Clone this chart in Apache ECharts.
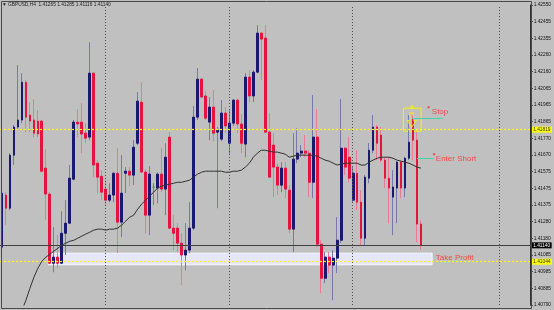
<!DOCTYPE html>
<html><head><meta charset="utf-8">
<script src="https://cdn.jsdelivr.net/npm/echarts@6/dist/echarts.min.js"></script>
<style>html,body{margin:0;padding:0;background:#c0c0c0;}#c{width:554px;height:310px;}</style>
</head><body><div id="c"></div>
<script>
// ---- data ----
const symbolName = 'GBPUSD,H4';
const lastOHLC = [1.41265, 1.41285, 1.41116, 1.41140];
const open = [1.41129,1.41435,1.41358,1.41669,1.41834,1.41875,1.42097,1.41904,1.41875,1.41869,
 1.41869,1.41593,1.41441,1.41035,1.41071,1.41035,1.41211,1.41270,1.41528,1.41863,
 1.41863,1.41798,1.41775,1.42150,1.41622,1.41545,1.41470,1.41405,1.41435,1.41563,
 1.41276,1.41563,1.41575,1.41552,1.41739,1.41980,1.41570,1.41317,1.41482,1.41476,
 1.41558,1.41470,1.41775,1.41241,1.41241,1.41153,1.41083,1.41112,1.41241,1.41892,
 1.42115,1.42016,1.41863,1.41951,1.41804,1.41763,1.41916,1.41739,1.41857,1.41992,
 1.41852,1.41734,1.42127,1.42016,1.42156,1.42385,1.42356,1.41804,1.41728,1.41599,
 1.41493,1.41593,1.41464,1.41235,1.41646,1.41681,1.41693,1.41681,1.41510,1.41775,
 1.41147,1.40947,1.41071,1.41024,1.41065,1.41170,1.41710,1.41657,1.41405,1.41563,
 1.41393,1.41182,1.41534,1.41698,1.41834,1.41787,1.41640,1.41534,1.41423,1.41476,
 1.41628,1.41476,1.41651,1.41886,1.41757,1.41265];
const close = [1.41446,1.41358,1.41669,1.41834,1.41875,1.42097,1.41892,1.41869,1.41798,1.41793,
 1.41575,1.41441,1.41035,1.41071,1.41035,1.41211,1.41270,1.41534,1.41863,1.41852,
 1.41793,1.41769,1.42150,1.41611,1.41540,1.41452,1.41405,1.41435,1.41563,1.41276,
 1.41446,1.41575,1.41552,1.41716,1.41986,1.41570,1.41317,1.41558,1.41482,1.41558,
 1.41470,1.41657,1.41241,1.41211,1.41153,1.41083,1.41112,1.41241,1.41892,1.42115,
 1.42010,1.41886,1.41951,1.41798,1.41816,1.41916,1.41840,1.41857,1.41992,1.41852,
 1.41739,1.42127,1.42016,1.42156,1.42385,1.42350,1.41804,1.41540,1.41599,1.41493,
 1.41593,1.41470,1.41235,1.41646,1.41681,1.41693,1.41681,1.41510,1.41775,1.41147,
 1.40947,1.41071,1.41024,1.41065,1.41170,1.41710,1.41599,1.41534,1.41563,1.41393,
 1.41182,1.41540,1.41698,1.41834,1.41739,1.41640,1.41534,1.41476,1.41482,1.41628,
 1.41476,1.41651,1.41745,1.41757,1.41265,1.41140];
const low = [1.41112,1.41259,1.41346,1.41611,1.41816,1.41857,1.41804,1.41804,1.41775,1.41775,
 1.41570,1.41288,1.41030,1.40982,1.41006,1.41030,1.41083,1.41265,1.41522,1.41775,
 1.41680,1.41739,1.41757,1.41540,1.41446,1.41405,1.41376,1.41393,1.41393,1.41094,
 1.41188,1.41446,1.41487,1.41493,1.41728,1.41564,1.41211,1.41200,1.41376,1.41387,
 1.41452,1.41317,1.41235,1.41112,1.41100,1.40906,1.40994,1.41094,1.41229,1.41875,
 1.42004,1.41875,1.41757,1.41751,1.41358,1.41751,1.41798,1.41669,1.41840,1.41798,
 1.41680,1.41657,1.41980,1.41980,1.42150,1.42109,1.41800,1.41535,1.41423,1.41435,
 1.41452,1.41417,1.41211,1.41100,1.41622,1.41657,1.41657,1.41423,1.41417,1.41129,
 1.40859,1.40918,1.40977,1.40818,1.40977,1.41153,1.41552,1.41510,1.41393,1.41346,
 1.41141,1.41141,1.41504,1.41680,1.41640,1.41628,1.41476,1.41270,1.41200,1.41270,
 1.41417,1.41423,1.41640,1.41640,1.41159,1.41116];
const high = [1.41464,1.41452,1.41680,1.41846,1.42198,1.42150,1.42109,1.41980,1.41998,1.41933,
 1.41875,1.41704,1.41452,1.41247,1.41200,1.41340,1.41405,1.41611,1.41875,1.41939,
 1.41974,1.41857,1.42332,1.42156,1.41640,1.41581,1.41522,1.41504,1.41569,1.41710,
 1.41669,1.41599,1.41599,1.41757,1.42039,1.42097,1.41587,1.41605,1.41504,1.41569,
 1.41710,1.41739,1.41804,1.41317,1.41270,1.41211,1.41270,1.41393,1.41957,1.42180,
 1.42121,1.42045,1.42010,1.42051,1.41834,1.41992,1.41951,1.41933,1.41998,1.41998,
 1.41910,1.42150,1.42168,1.42168,1.42432,1.42391,1.42432,1.41916,1.41798,1.41622,
 1.41628,1.41628,1.41493,1.41798,1.41828,1.41728,1.41787,1.41698,1.42022,1.41939,
 1.41170,1.41100,1.41100,1.41112,1.41305,1.41998,1.41715,1.41775,1.41599,1.41698,
 1.41464,1.41552,1.41740,1.41904,1.41846,1.41834,1.41657,1.41657,1.41581,1.41635,
 1.41635,1.41660,1.41904,1.41904,1.41804,1.41285];
const ma = [1.40466,1.40525,1.40583,1.40642,1.40701,1.40759,1.40818,1.40888,1.40953,1.41006,
 1.41047,1.41071,1.41088,1.41106,1.41123,1.41141,1.41153,1.41164,1.41170,1.41182,
 1.41194,1.41206,1.41217,1.41229,1.41235,1.41235,1.41229,1.41235,1.41235,1.41241,
 1.41259,1.41282,1.41305,1.41317,1.41352,1.41382,1.41405,1.41429,1.41452,1.41476,
 1.41487,1.41493,1.41499,1.41504,1.41510,1.41510,1.41516,1.41522,1.41540,1.41558,
 1.41569,1.41575,1.41575,1.41575,1.41575,1.41575,1.41569,1.41569,1.41575,1.41575,
 1.41581,1.41599,1.41622,1.41657,1.41681,1.41698,1.41698,1.41692,1.41687,1.41687,
 1.41681,1.41675,1.41657,1.41663,1.41669,1.41669,1.41669,1.41669,1.41669,1.41663,
 1.41651,1.41640,1.41634,1.41622,1.41611,1.41617,1.41622,1.41622,1.41622,1.41622,
 1.41611,1.41611,1.41628,1.41640,1.41651,1.41657,1.41657,1.41657,1.41651,1.41640,
 1.41634,1.41628,1.41622,1.41611,1.41599,1.41593];
const tickLabels = ['1.40790','1.40885','1.40985','1.41085','1.41180','1.41280','1.41375','1.41475','1.41575','1.41670',
 '1.41770','1.41865','1.41965','1.42065','1.42160','1.42260','1.42355','1.42455','1.42550'];
const priceMin = 1.40790, priceMax = 1.42550;
const yellowLevels = [1.41819, 1.41044];
const currentPrice = 1.41140;
const takeProfit = [1.41094, 1.41026];
const stopZone = [1.41945, 1.41810];
const stopLevel = 1.41886;
const entryLevel = 1.41652;
const noteTexts = ['Stop', 'Enter Short', 'Take Profit'];
const notePrices = [1.41921, 1.41646, 1.41065];

// ---- layout constants ----
const SLOTS = 133;
const X0 = -0.5, X1 = SLOTS - 0.5;
const bars = open.map((o, i) => [i, o, close[i], low[i], high[i]]);
const bodies = open.map((o, i) => [i, o, close[i], Math.min(o, close[i]), Math.max(o, close[i])]);
const FONT = 'Liberation Sans, Arial, sans-serif';
const BULL = '#191970', BEAR = '#e5143e';

function hLine(v, color, type, labelBg, labelFg) {
  return [
    {coord: [X0, v], lineStyle: {color: color, type: type, width: 1.2},
      label: {show: true, position: 'end', distance: 1, formatter: v.toFixed(5), fontSize: 4.8,
        fontFamily: FONT, color: labelFg, backgroundColor: labelBg, padding: [0.5, 1.5]}},
    {coord: [X1, v]}
  ];
}
function vLine(k) {
  return [
    {coord: [k, priceMin], lineStyle: {color: '#505050', type: [1, 2], width: 1}, label: {show: false}},
    {coord: [k, priceMax]}
  ];
}

const chart = echarts.init(document.getElementById('c'), null, {renderer: 'canvas'});
chart.setOption({
  backgroundColor: '#c0c0c0',
  animation: false,
  title: {text: '\u25BC ' + symbolName + '  ' + lastOHLC.map(v => v.toFixed(5)).join(' '),
    left: 2, top: 2, padding: 0,
    textStyle: {fontSize: 4.8, fontWeight: 'normal', color: '#222', fontFamily: FONT}},
  grid: {left: -2, right: 23, top: 5, bottom: 5},
  xAxis: {type: 'value', min: X0, max: X1, show: false},
  yAxis: [
    {type: 'value', min: priceMin, max: priceMax, show: false, splitLine: {show: false}},
    {type: 'category', data: tickLabels, boundaryGap: false, position: 'right',
      axisLine: {show: true, lineStyle: {color: '#333', width: 1}},
      axisTick: {show: true, length: 2, interval: 0, lineStyle: {color: '#222'}},
      axisLabel: {fontSize: 4.8, color: '#111', margin: 3, interval: 0, fontFamily: FONT},
      splitLine: {show: false}}
  ],
  graphic: [{type: 'rect', silent: true, z: 100,
    shape: {x: 1.5, y: 1.5, width: 530, height: 307},
    style: {fill: 'none', stroke: '#4a4a4a', lineWidth: 1}}],
  series: [
    {type: 'line', data: [], z: 1, silent: true,
      markArea: {silent: true, data: [[
        {coord: [11.6, takeProfit[0]], itemStyle: {color: '#e6e6fa', borderColor: '#f8f8ff', borderWidth: 1}},
        {coord: [107.8, takeProfit[1]]}]]},
      markLine: {silent: true, symbol: ['none', 'none'], animation: false, data: [
        vLine(26), vLine(57), vLine(87.75), vLine(124.75),
        hLine(yellowLevels[0], '#ffff00', [2, 2], '#ffff00', '#333'),
        hLine(yellowLevels[1], '#ffff00', [2, 2], '#ffff00', '#333'),
        hLine(currentPrice, '#404040', 'solid', '#000', '#fff')
      ]}},
    {type: 'candlestick', name: 'wick', data: bars, barWidth: 1, z: 3, silent: true,
      itemStyle: {color: '#7878aa', color0: '#ea7a94', borderColor: '#7878aa', borderColor0: '#ea7a94',
        borderColorDoji: '#3aa83a', borderWidth: 1}},
    {type: 'candlestick', name: 'body', data: bodies, barWidth: 2.3, z: 4, silent: true,
      itemStyle: {color: BULL, color0: BEAR, borderColor: BULL, borderColor0: BEAR,
        borderColorDoji: '#3aa83a', borderWidth: 1}},
    {type: 'line', name: 'MA', data: ma.map((v, i) => [i, v]), showSymbol: false, symbol: 'none',
      clip: true, z: 5, silent: true, lineStyle: {color: '#303030', width: 1}},
    {type: 'line', data: [], z: 6, silent: true,
      markArea: {silent: true, data: [[
        {coord: [100.6, stopZone[0]], itemStyle: {color: 'rgba(0,0,0,0)', borderColor: '#f4f400', borderWidth: 1}},
        {coord: [105.05, stopZone[1]]}]]},
      markLine: {silent: true, symbol: ['none', 'none'], label: {show: false},
        lineStyle: {color: '#3ed8a0', type: 'solid', width: 1}, data: [
          [{coord: [102.8, stopLevel]}, {coord: [110.5, stopLevel]}],
          [{coord: [104.0, entryLevel]}, {coord: [108.3, entryLevel]}]
        ]}},
    {type: 'scatter', z: 7, silent: true,
      data: [
        {value: [102.7, 1.41875], symbol: 'path://M3,0 L7,0 L7,7 L10,7 L5,13 L0,7 L3,7 Z', symbolSize: [9, 14],
          itemStyle: {color: 'rgba(0,0,0,0)', borderColor: '#f4f400', borderWidth: 1}},
        {value: [102.8, 1.41951], symbol: 'rect', symbolSize: 3, itemStyle: {color: '#f4f400'}},
        {value: [106.9, 1.41950], symbol: 'rect', symbolSize: 2, itemStyle: {color: '#ff2a2a'}},
        {value: [108.3, 1.41675], symbol: 'rect', symbolSize: 2, itemStyle: {color: '#ff2a2a'}}
      ]},
    {type: 'scatter', z: 8, silent: true, symbolSize: 1, itemStyle: {color: 'rgba(0,0,0,0)'},
      data: [[107.6, notePrices[0], noteTexts[0]], [108.6, notePrices[1], noteTexts[1]], [108.6, notePrices[2], noteTexts[2]]],
      label: {show: true, position: 'right', distance: 0, formatter: p => p.data[2],
        color: '#ff2a2a', fontSize: 8, fontFamily: FONT}}
  ]
});
</script></body></html>
